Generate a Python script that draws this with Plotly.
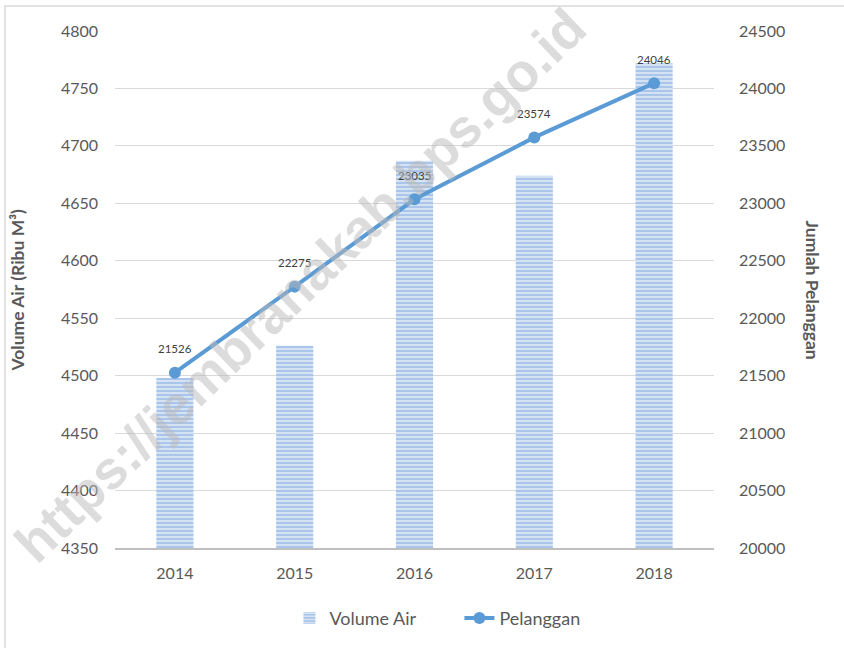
import plotly.graph_objects as go

years = ["2014", "2015", "2016", "2017", "2018"]
volume_air = [4498, 4526, 4687, 4674, 4772]
pelanggan = [21526, 22275, 23035, 23574, 24046]
left_ticks = [4350, 4400, 4450, 4500, 4550, 4600, 4650, 4700, 4750, 4800]
right_ticks = [20000, 20500, 21000, 21500, 22000, 22500, 23000, 23500, 24000, 24500]

FONT = "Lato, 'Open Sans', sans-serif"
GREY = "#595959"
PW, PH = 599, 517
pos = list(range(len(years)))

fig = go.Figure()
fig.add_trace(go.Bar(
    x=pos, y=volume_air, name="Volume Air", width=0.31,
    marker=dict(color="#aac5ea", line=dict(width=0),
                pattern=dict(shape="-", fgcolor="#ffffff", bgcolor="#aac5ea",
                             size=4, solidity=0.25, fillmode="replace")),
))
fig.add_trace(go.Scatter(
    x=pos, y=pelanggan, name="Pelanggan", yaxis="y2", mode="lines+markers",
    line=dict(color="#5b9bd5", width=4), marker=dict(color="#5b9bd5", size=12),
))

for x, v in zip(pos, pelanggan):
    fig.add_annotation(x=x, y=v, xref="x", yref="y2", text=str(v), showarrow=False,
                       yshift=24, font=dict(family=FONT, size=11.5, color="#404040"))

fig.add_annotation(text="Volume Air (Ribu M³)", xref="paper", yref="paper",
                   x=-98 / PW, y=0.5, xanchor="center", yanchor="middle",
                   textangle=-90, showarrow=False,
                   font=dict(family=FONT, size=17.5, color=GREY, weight="bold"))
fig.add_annotation(text="Jumlah Pelanggan", xref="paper", yref="paper",
                   x=1 + 98 / PW, y=0.5, xanchor="center", yanchor="middle",
                   textangle=90, showarrow=False,
                   font=dict(family=FONT, size=17.5, color=GREY, weight="bold"))

fig.add_annotation(text="https://jembranakab.bps.go.id", xref="paper", yref="paper",
                   x=(300 - 115) / PW, y=(548 - 285) / PH, xanchor="center", yanchor="middle",
                   textangle=-44, showarrow=False,
                   font=dict(family="Liberation Sans, Arial, sans-serif", size=54,
                             color="rgba(185,185,185,0.5)", weight="bold"))

fig.add_shape(type="rect", xref="paper", yref="paper",
              x0=-110 / PW, x1=1 + 200 / PW, y0=-200 / PH, y1=1 + 25 / PH,
              line=dict(color="#d9d9d9", width=1.5), layer="below")

fig.update_layout(
    width=844, height=648,
    margin=dict(l=115, r=130, t=31, b=100, autoexpand=False),
    paper_bgcolor="white", plot_bgcolor="white",
    font=dict(family=FONT, size=16, color=GREY),
    showlegend=True,
    legend=dict(orientation="h", x=0.575, xanchor="center", y=-0.1, yanchor="top",
                entrywidth=125, font=dict(family=FONT, size=18, color=GREY)),
    xaxis=dict(range=[-0.5, len(years) - 0.5], tickvals=pos, ticktext=years,
               showgrid=False, showline=True, linecolor="#bfbfbf", zeroline=False,
               linewidth=2, ticks="", tickfont=dict(size=16), ticklabelstandoff=10),
    yaxis=dict(range=[4350, 4800], tickvals=left_ticks, showgrid=True,
               gridcolor="#d9d9d9", gridwidth=1, zeroline=False, showline=False,
               tickformat="d", tickfont=dict(size=16), ticklabelstandoff=16),
    yaxis2=dict(range=[20000, 24500], tickvals=right_ticks, overlaying="y",
                side="right", showgrid=False, zeroline=False, showline=False,
                tickformat="d", tickfont=dict(size=16), ticklabelstandoff=24),
)

fig.write_html("out.html", config={"displayModeBar": False},
               post_script="document.body.style.margin='0';")
